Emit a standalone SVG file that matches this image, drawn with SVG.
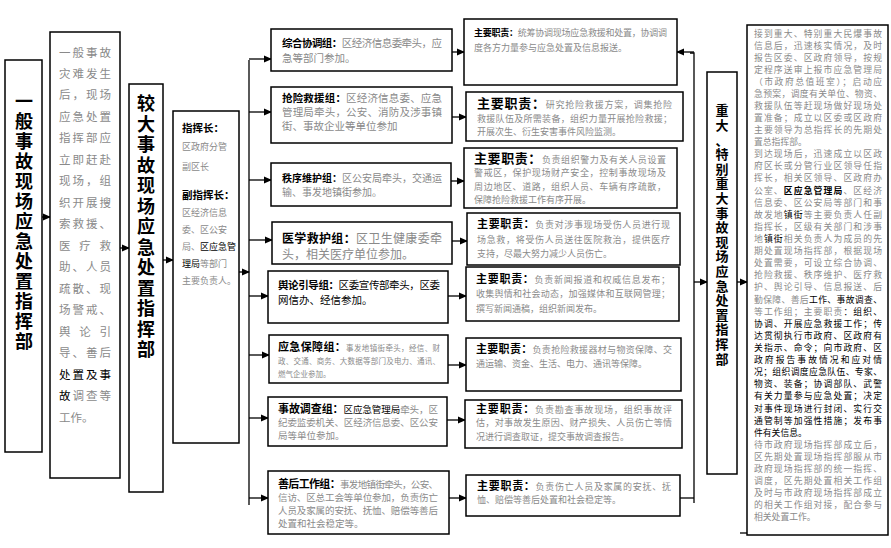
<svg xmlns="http://www.w3.org/2000/svg" width="891" height="548" viewBox="0 0 891 548" font-size="10">
<style>
text{font-family:"Noto Sans CJK SC","Noto Sans",sans-serif;fill:#8a8a8a}
.b{fill:#000;font-weight:bold}
.k{fill:#000}
.v{fill:#000;font-weight:bold;text-anchor:middle}
rect{fill:#fff;stroke:#000;stroke-width:1.5}
.c line,.c path{stroke:#000;stroke-width:1.3;fill:none}
</style>
<defs><marker id="a" markerWidth="8" markerHeight="8" refX="7" refY="4" orient="auto" markerUnits="userSpaceOnUse"><path d="M0,0.5 L8,4 L0,7.5z" fill="#000"/></marker></defs>
<g class="c">
<line x1="42" y1="217" x2="50" y2="217" marker-end="url(#a)"/>
<line x1="120" y1="248" x2="129" y2="248" marker-end="url(#a)"/>
<line x1="163" y1="260" x2="173" y2="260" marker-end="url(#a)"/>
<line x1="239" y1="272" x2="249" y2="272" marker-end="url(#a)"/>
<line x1="249" y1="60" x2="249" y2="505"/>
<line x1="249" y1="59" x2="271" y2="59" marker-end="url(#a)"/>
<line x1="249" y1="112" x2="271" y2="112" marker-end="url(#a)"/>
<line x1="249" y1="180" x2="271" y2="180" marker-end="url(#a)"/>
<line x1="249" y1="240" x2="272" y2="240" marker-end="url(#a)"/>
<line x1="249" y1="296" x2="268" y2="296" marker-end="url(#a)"/>
<line x1="249" y1="355" x2="269" y2="355" marker-end="url(#a)"/>
<line x1="249" y1="418" x2="268" y2="418" marker-end="url(#a)"/>
<line x1="249" y1="498" x2="268" y2="498" marker-end="url(#a)"/>
<line x1="452" y1="52" x2="464" y2="52" marker-end="url(#a)"/>
<line x1="452" y1="117" x2="466" y2="117" marker-end="url(#a)"/>
<line x1="451" y1="181" x2="464" y2="181" marker-end="url(#a)"/>
<line x1="452" y1="241" x2="467" y2="241" marker-end="url(#a)"/>
<line x1="448" y1="296" x2="466" y2="296" marker-end="url(#a)"/>
<line x1="448" y1="365" x2="466" y2="365" marker-end="url(#a)"/>
<line x1="447" y1="420" x2="465" y2="420" marker-end="url(#a)"/>
<line x1="449" y1="498" x2="466" y2="498" marker-end="url(#a)"/>
<path d="M690,53 L694,53 L694,503"/>
<line x1="694" y1="52" x2="677" y2="52" marker-end="url(#a)"/>
<line x1="680" y1="498" x2="694" y2="498"/>
<line x1="694" y1="282" x2="707" y2="282" marker-end="url(#a)"/>
<line x1="737" y1="282" x2="747" y2="282" marker-end="url(#a)"/>
<line x1="740" y1="533" x2="747" y2="533"/>
</g>
<g id="n1"><rect x="5" y="60" width="37" height="392"/>
<text class="v" font-size="18"><tspan x="24" y="108">一</tspan><tspan x="24" y="128">般</tspan><tspan x="24" y="148">事</tspan><tspan x="24" y="168">故</tspan><tspan x="24" y="188">现</tspan><tspan x="24" y="208">场</tspan><tspan x="24" y="228">应</tspan><tspan x="24" y="248">急</tspan><tspan x="24" y="268">处</tspan><tspan x="24" y="288">置</tspan><tspan x="24" y="308">指</tspan><tspan x="24" y="328">挥</tspan><tspan x="24" y="348">部</tspan></text></g>
<g id="n2"><rect x="50" y="32" width="70" height="446"/>
<g font-size="11.5"><text x="59" y="57" textLength="52">一般事故</text><text x="59" y="78" textLength="52">灾难发生</text><text x="59" y="99" textLength="52">后，现场</text><text x="59" y="121" textLength="52">应急处置</text><text x="59" y="142" textLength="52">指挥部应</text><text x="59" y="164" textLength="52">立即赶赴</text><text x="59" y="185" textLength="52">现场，组</text><text x="59" y="207" textLength="52">织开展搜</text><text x="59" y="228" textLength="52">索救援、</text><text x="59" y="250" textLength="52">医疗救</text><text x="59" y="271" textLength="52">助、人员</text><text x="59" y="293" textLength="52">疏散、现</text><text x="59" y="314" textLength="52">场警戒、</text><text x="59" y="336" textLength="52">舆论引</text><text x="59" y="357" textLength="52">导、善后</text><text x="59" y="379" textLength="52"><tspan class="k">处置及事</tspan></text><text x="59" y="400" textLength="52"><tspan class="k">故</tspan>调查等</text><text x="59" y="422">工作。</text></g></g>
<g id="n3"><rect x="129" y="84" width="34" height="408"/>
<text class="v" font-size="18"><tspan x="146" y="110">较</tspan><tspan x="146" y="131">大</tspan><tspan x="146" y="151">事</tspan><tspan x="146" y="172">故</tspan><tspan x="146" y="192">现</tspan><tspan x="146" y="213">场</tspan><tspan x="146" y="233">应</tspan><tspan x="146" y="254">急</tspan><tspan x="146" y="274">处</tspan><tspan x="146" y="295">置</tspan><tspan x="146" y="315">指</tspan><tspan x="146" y="336">挥</tspan><tspan x="146" y="356">部</tspan></text></g>
<g id="n4"><rect x="173" y="111" width="66" height="332"/>
<text class="b" x="182" y="132" font-size="10.5">指挥长：</text>
<g font-size="9"><text x="182" y="150">区政府分管</text><text x="182" y="170">副区长</text></g>
<text class="b" x="182" y="199" font-size="10.5">副指挥长：</text>
<g font-size="9"><text x="182" y="216">区经济信息</text><text x="182" y="233">委、区公安</text><text x="182" y="250">局、<tspan class="k">区应急管</tspan></text><text x="182" y="267"><tspan class="k">理局</tspan>等部门</text><text x="182" y="284">主要负责人。</text></g></g>
<g id="g1"><rect x="271" y="29" width="181" height="42"/>
<g font-size="10.5"><text x="282" y="47" textLength="160"><tspan class="b">综合协调组：</tspan>区经济信息委牵头，应</text><text x="282" y="62">急等部门参加。</text></g></g>
<g id="g2"><rect x="271" y="87" width="181" height="56"/>
<g font-size="10.5"><text x="282" y="102" textLength="160"><tspan class="b">抢险救援组：</tspan>区经济信息委、应急</text><text x="282" y="116" textLength="160">管理局牵头，公安、消防及涉事镇</text><text x="282" y="130">街、事故企业等单位参加</text></g></g>
<g id="g3"><rect x="271" y="163" width="180" height="43"/>
<g font-size="10"><text x="282" y="182" textLength="160"><tspan class="b">秩序维护组：</tspan>区公安局牵头，交通运</text><text x="282" y="196">输、事发地镇街参加。</text></g></g>
<g id="g4"><rect x="272" y="222" width="180" height="42"/>
<g font-size="12"><text x="282" y="243" textLength="160"><tspan class="b">医学救护组：</tspan>区卫生健康委牵</text><text x="282" y="259">头，相关医疗单位参加。</text></g></g>
<g id="g5"><rect x="268" y="271" width="180" height="52"/>
<g font-size="10.5"><text class="k" x="278" y="289" textLength="162"><tspan class="b">舆论引导组：</tspan>区委宣传部牵头，区委</text><text class="k" x="278" y="304">网信办、经信参加。</text></g></g>
<g id="g6"><rect x="269" y="335" width="179" height="48"/>
<g font-size="7.5"><text x="278" y="351" textLength="162"><tspan class="b" font-size="11">应急保障组：</tspan>事发地镇街牵头，经信、财</text><text x="278" y="364" textLength="162">政、交通、商务、大数据等部门及电力、通讯、</text><text x="278" y="377">燃气企业参加。</text></g></g>
<g id="g7"><rect x="268" y="397" width="179" height="49"/>
<g font-size="9.5"><text x="278" y="413" textLength="160"><tspan class="b" font-size="11">事故调查组：</tspan><tspan class="k">区应急管理局</tspan>牵头，区</text><text x="278" y="426" textLength="160">纪委监委机关、区经济信息委、区公安</text><text x="278" y="439">局等单位参加。</text></g></g>
<g id="g8"><rect x="268" y="471" width="181" height="63"/>
<g font-size="9.5"><text x="278" y="488" textLength="160"><tspan class="b" font-size="11">善后工作组：</tspan>事发地镇街牵头，公安、</text><text x="278" y="501" textLength="160">信访、区总工会等单位参加，负责伤亡</text><text x="278" y="514" textLength="160">人员及家属的安抚、抚恤、赔偿等善后</text><text x="278" y="527">处置和社会稳定等。</text></g></g>
<g id="r1"><rect x="464" y="19" width="213" height="66"/>
<g font-size="9"><text x="474" y="36" textLength="193"><tspan class="b">主要职责：</tspan>统筹协调现场应急救援和处置，协调调</text><text x="474" y="51">度各方力量参与应急处置及信息报送。</text></g></g>
<g id="r2"><rect x="466" y="92" width="217" height="49"/>
<g font-size="9"><text x="477" y="108" textLength="195"><tspan class="b" font-size="13">主要职责：</tspan>研究抢险救援方案，调集抢险</text><text x="477" y="122" textLength="195">救援队伍及所需装备，组织力量开展抢险救援；</text><text x="477" y="135">开展次生、衍生安害事件风险监测。</text></g></g>
<g id="r3"><rect x="464" y="148" width="213" height="60"/>
<g font-size="9"><text x="474" y="163" textLength="192"><tspan class="b" font-size="13">主要职责：</tspan>负责组织警力及有关人员设置</text><text x="474" y="176" textLength="192">警戒区，保护现场财产安全，控制事故现场及</text><text x="474" y="190" textLength="192">周边地区、道路，组织人员、车辆有序疏散，</text><text x="474" y="203">保障抢险救援工作有序开展。</text></g></g>
<g id="r4"><rect x="467" y="213" width="213" height="52"/>
<g font-size="9"><text x="477" y="228" textLength="193"><tspan class="b" font-size="11">主要职责：</tspan>负责对涉事现场受伤人员进行现</text><text x="477" y="243" textLength="193">场急救，将受伤人员送往医院救治，提供医疗</text><text x="477" y="257">支持，尽最大努力减少人员伤亡。</text></g></g>
<g id="r5"><rect x="466" y="267" width="213" height="54"/>
<g font-size="9"><text x="476" y="283" textLength="194"><tspan class="b" font-size="11">主要职责：</tspan>负责新闻报道和权威信息发布；</text><text x="476" y="297" textLength="194">收集舆情和社会动态，加强媒体和互联网管理；</text><text x="476" y="312">撰写新闻通稿，组织新闻发布。</text></g></g>
<g id="r6"><rect x="466" y="338" width="215" height="53"/>
<g font-size="9"><text x="476" y="353" textLength="196"><tspan class="b" font-size="11">主要职责：</tspan>负责抢险救援器材与物资保障、交</text><text x="476" y="367">通运输、资金、生活、电力、通讯等保障。</text></g></g>
<g id="r7"><rect x="465" y="400" width="217" height="48"/>
<g font-size="9"><text x="476" y="413" textLength="196"><tspan class="b" font-size="11">主要职责：</tspan>负责勘查事故现场，组织事故评</text><text x="476" y="426" textLength="196">估，对事故发生原因、财产损失、人员伤亡等情</text><text x="476" y="440">况进行调查取证，提交事故调查报告。</text></g></g>
<g id="r8"><rect x="466" y="475" width="214" height="41"/>
<g font-size="9"><text x="477" y="490" textLength="194"><tspan class="b" font-size="11">主要职责：</tspan>负责伤亡人员及家属的安抚、抚</text><text x="477" y="503">恤、赔偿等善后处置和社会稳定等。</text></g></g>
<g id="n5"><rect x="707" y="72" width="30" height="402"/>
<text class="v" font-size="13"><tspan x="722" y="115">重</tspan><tspan x="722" y="130">大</tspan><tspan x="722" y="145">、</tspan><tspan x="722" y="159">特</tspan><tspan x="722" y="174">别</tspan><tspan x="722" y="188">重</tspan><tspan x="722" y="203">大</tspan><tspan x="722" y="218">事</tspan><tspan x="722" y="232">故</tspan><tspan x="722" y="247">现</tspan><tspan x="722" y="261">场</tspan><tspan x="722" y="276">应</tspan><tspan x="722" y="291">急</tspan><tspan x="722" y="305">处</tspan><tspan x="722" y="320">置</tspan><tspan x="722" y="334">指</tspan><tspan x="722" y="349">挥</tspan><tspan x="722" y="364">部</tspan></text></g>
<g id="n6"><rect x="747" y="25" width="141" height="510"/>
<g font-size="8.8">
<text x="754" y="37" textLength="128">接到重大、特别重大民爆事故</text>
<text x="754" y="49" textLength="128">信息后，迅速核实情况，及时</text>
<text x="754" y="61" textLength="128">报告区委、区政府领导，按规</text>
<text x="754" y="73" textLength="128">定程序送审上报市应急管理局</text>
<text x="754" y="85" textLength="128">（市政府总值班室）；启动应</text>
<text x="754" y="97" textLength="128">急预案，调度有关单位、物资、</text>
<text x="754" y="109" textLength="128">救援队伍等赶现场做好现场处</text>
<text x="754" y="121" textLength="128">置准备；成立以区委或区政府</text>
<text x="754" y="133" textLength="128">主要领导为总指挥长的先期处</text>
<text x="754" y="145">置总指挥部。</text>
<text x="754" y="157" textLength="128">到达现场后，迅速成立以区政</text>
<text x="754" y="169" textLength="128">府区长或分管行业区领导任指</text>
<text x="754" y="181" textLength="128">挥长，相关区领导、区政府办</text>
<text x="754" y="194" textLength="128">公室、<tspan class="b">区应急管理局</tspan>、区经济</text>
<text x="754" y="206" textLength="128">信息委、区公安局等部门和事</text>
<text x="754" y="218" textLength="128">故发地<tspan class="k">镇街</tspan>等主要负责人任副</text>
<text x="754" y="230" textLength="128">指挥长，区级有关部门和涉事</text>
<text x="754" y="242" textLength="128">地<tspan class="k">镇街</tspan>相关负责人为成员的先</text>
<text x="754" y="254" textLength="128">期处置现场指挥部，根据现场</text>
<text x="754" y="266" textLength="128">处置需要，可设立综合协调、</text>
<text x="754" y="278" textLength="128">抢险救援、秩序维护、医疗救</text>
<text x="754" y="290" textLength="128">护、舆论引导、信息报送、后</text>
<text x="754" y="303" textLength="128">勤保障、善后<tspan class="k">工作、事故调查、</tspan></text>
<text x="754" y="315" textLength="128">等工作组；主要职责<tspan class="k">：组织、</tspan></text>
<text class="k" x="754" y="327" textLength="128">协调、开展应急救援工作；传</text>
<text class="k" x="754" y="339" textLength="128">达贯彻执行市政府、区政府有</text>
<text class="k" x="754" y="351" textLength="128">关指示、命令；向市政府、区</text>
<text class="k" x="754" y="363" textLength="128">政府报告事故情况和应对情</text>
<text class="k" x="754" y="375" textLength="128">况；组织调度应急队伍、专家、</text>
<text class="k" x="754" y="387" textLength="128">物资、装备；协调部队、武警</text>
<text class="k" x="754" y="399" textLength="128">有关力量参与应急处置；决定</text>
<text class="k" x="754" y="412" textLength="128">对事件现场进行封闭、实行交</text>
<text class="k" x="754" y="424" textLength="128">通管制等加强性措施；发布事</text>
<text class="k" x="754" y="436">件有关信息。</text>
<text x="754" y="448" textLength="128">待市政府现场指挥部成立后，</text>
<text x="754" y="460" textLength="128">区先期处置现场指挥部服从市</text>
<text x="754" y="472" textLength="128">政府现场指挥部的统一指挥、</text>
<text x="754" y="484" textLength="128">调度，区先期处置相关工作组</text>
<text x="754" y="496" textLength="128">及时与市政府现场指挥部成立</text>
<text x="754" y="508" textLength="128">的相关工作组对接，配合参与</text>
<text x="754" y="520">相关处置工作。</text>
</g></g>
</svg>
